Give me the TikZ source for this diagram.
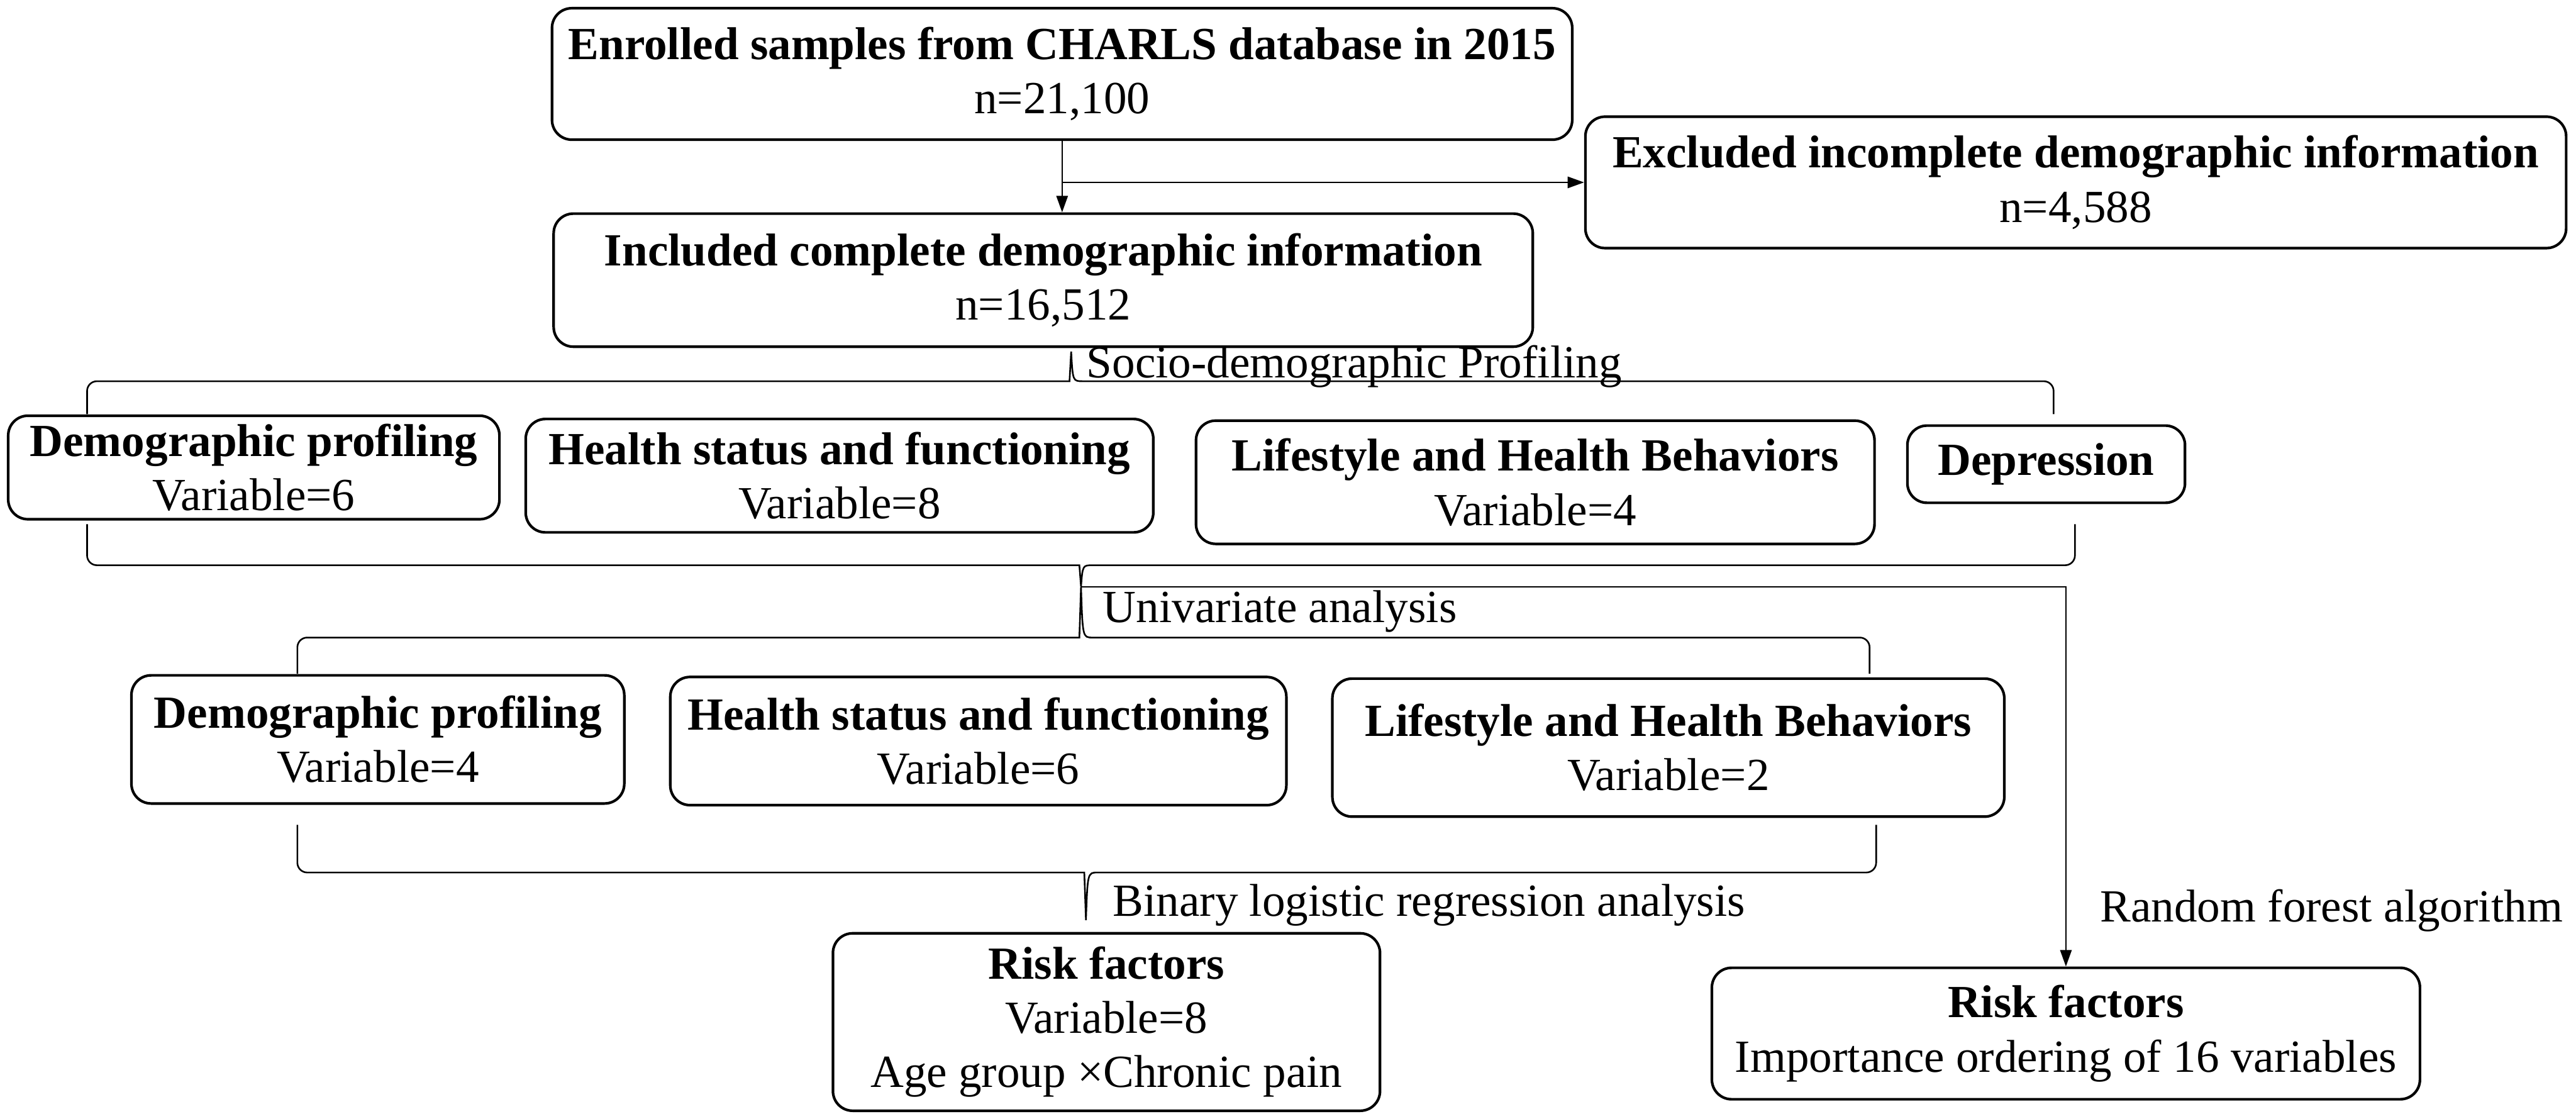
\documentclass[tikz,border=0pt]{standalone}
\usepackage{fontspec}
\setmainfont{Liberation Serif}
\usetikzlibrary{arrows.meta}
\begin{document}
\begin{tikzpicture}[x=0.5pt,y=-0.5pt,
    box/.style={draw, line width=0.8pt, rounded corners=6pt, align=center, inner sep=0pt,
      font=\fontsize{14}{16.5}\selectfont},
    lbl/.style={anchor=west, inner sep=0pt, font=\fontsize{14}{16.5}\selectfont},
    brc/.style={line width=0.5pt},
    arr/.style={line width=0.4pt, -{Triangle[length=5pt,width=3.5pt]}}]
    \useasboundingbox (0,0) rectangle (1568,681);
    % screening
    \node[box, minimum width=310.5pt, minimum height=40pt] (enrol) at (646.5,45)
        {\textbf{Enrolled samples from CHARLS database in 2015}\\n=21,100};
    \node[box, minimum width=298.5pt, minimum height=40pt] (excl) at (1263.5,111)
        {\textbf{Excluded incomplete demographic information}\\n=4,588};
    \node[box, minimum width=298pt, minimum height=40.5pt] (incl) at (635,170.5)
        {\textbf{Included complete demographic information}\\n=16,512};
    \draw[arr] (enrol.south) -- (enrol.south |- incl.north);
    \draw[arr] (enrol.south |- excl.west) -- (excl.west);
    % first group of variables
    \node[box, minimum width=149.5pt, minimum height=31.5pt] (demoA) at (154.5,284.5)
        {\textbf{Demographic profiling}\\Variable=6};
    \node[box, minimum width=191pt, minimum height=34.5pt] (hlthA) at (511,289.5)
        {\textbf{Health status and functioning}\\Variable=8};
    \node[box, minimum width=206.5pt, minimum height=37.5pt] (lifeA) at (934.5,293.5)
        {\textbf{Lifestyle and Health Behaviors}\\Variable=4};
    \node[box, minimum width=84.5pt, minimum height=23.5pt] (depr) at (1245.5,282.5)
        {\textbf{Depression}};
    % second group of variables
    \node[box, minimum width=150pt, minimum height=39pt] (demoB) at (230,450)
        {\textbf{Demographic profiling}\\Variable=4};
    \node[box, minimum width=187.5pt, minimum height=39pt] (hlthB) at (595.5,451)
        {\textbf{Health status and functioning}\\Variable=6};
    \node[box, minimum width=204.5pt, minimum height=42pt] (lifeB) at (1015.5,455)
        {\textbf{Lifestyle and Health Behaviors}\\Variable=2};
    % results
    \node[box, minimum width=166.5pt, minimum height=54pt] (riskL) at (673.5,622)
        {\textbf{Risk factors}\\Variable=8\\Age group ×Chronic pain};
    \node[box, minimum width=215.5pt, minimum height=40pt] (riskR) at (1257.5,629)
        {\textbf{Risk factors}\\Importance ordering of 16 variables};
    % braces
    \coordinate (tipA) at (652,214);
    \coordinate (tipB) at (658,357);
    \coordinate (tipC) at (661,560);
    \draw[brc] (53,252) [rounded corners=3pt] -- (53,232) -- (645,232) [sharp corners]
        .. controls (651,232) .. (tipA) .. controls (653,232) .. (659,232)
        [rounded corners=3pt] -- (1250,232) -- (1250,252);
    \draw[brc] (53,319) [rounded corners=3pt] -- (53,344) -- (651,344) [sharp corners]
        .. controls (657,344) .. (tipB) .. controls (659,344) .. (665,344)
        [rounded corners=3pt] -- (1263,344) -- (1263,319);
    \draw[brc] (181,410) [rounded corners=3pt] -- (181,388) -- (651,388) [sharp corners]
        .. controls (657,388) .. (tipB) .. controls (659,388) .. (665,388)
        [rounded corners=3pt] -- (1138,388) -- (1138,410);
    \draw[brc] (181,502) [rounded corners=3pt] -- (181,531) -- (654,531) [sharp corners]
        .. controls (660,531) .. (tipC) .. controls (662,531) .. (668,531)
        [rounded corners=3pt] -- (1142,531) -- (1142,502);
    \draw[arr] (tipB) -| (riskR.north);
    \node[lbl] (socio) at (661,223) {Socio-demographic Profiling};
    \node[lbl] (univ) at (671,372) {Univariate analysis};
    \node[lbl] (binlog) at (677,551) {Binary logistic regression analysis};
    \node[lbl] (forest) at (1278,554) {Random forest algorithm};
\end{tikzpicture}
\end{document}
